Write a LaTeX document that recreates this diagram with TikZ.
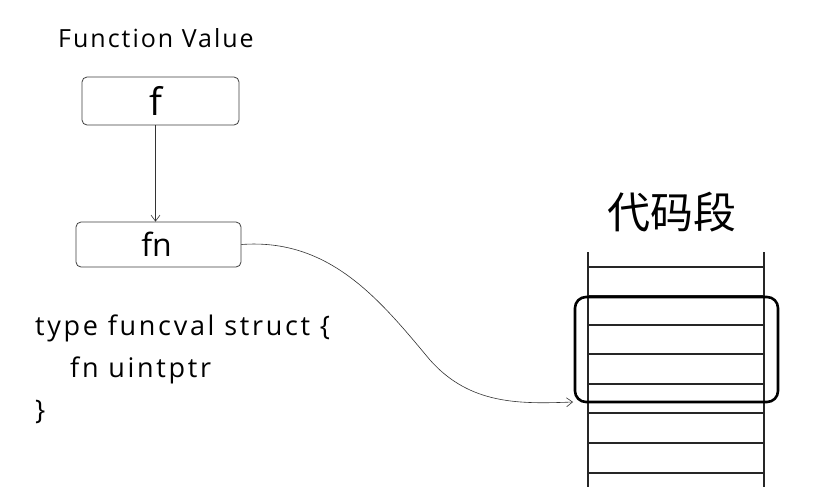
\documentclass[tikz,border=0pt]{standalone}
\usepackage{fontspec}
\setmainfont{Open Sans}
\newfontfamily\cjk{Noto Sans CJK SC}
\newfontfamily\spaced[LetterSpace=8]{Open Sans}
\newfontfamily\codefont[LetterSpace=10]{Open Sans}
\usetikzlibrary{arrows.meta}
\begin{document}
\begin{tikzpicture}[x=1pt,y=-1pt,
  valbox/.style={draw=black!75,line width=0.8pt,rounded corners=5pt,inner sep=0pt},
  lbl/.style={font=\fontsize{32}{36}\selectfont,inner sep=0pt},
  codeline/.style={font=\codefont\fontsize{27}{30}\selectfont,inner sep=0pt,anchor=base west},
  memline/.style={line width=1.3pt,black!85},
  link/.style={line width=0.6pt,black!80,-{Straight Barb[length=6pt,width=9pt]}}]
\useasboundingbox[fill=white] (0,0) rectangle (826,487);
% Title
\node[font=\spaced\fontsize{25}{28}\selectfont,inner sep=0pt,anchor=base] (title) at (156,48) {Function Value};
% Boxes
\node[valbox,minimum width=157pt,minimum height=48pt] (f) at (160.5,101) {};
\node[lbl,font=\fontsize{38}{40}\selectfont] (ftext) at ([xshift=-5pt]f.center) {f};
\node[valbox,minimum width=165pt,minimum height=45pt] (fn) at (158.5,244.5) {};
\node[lbl] (fntext) at ([xshift=-2pt]fn.center) {fn};
\draw[link] ([xshift=-5pt]f.south) -- ([xshift=-3pt]fn.north);
% Code
\node[codeline] (c1) at (35,335) {type funcval struct \{};
\node[codeline] (c2) at (70,377) {fn uintptr};
\node[codeline] (c3) at (35,419) {\}};
% Code segment
\node[font=\cjk\fontsize{43}{46}\selectfont,inner sep=0pt] (seg) at (672,212) {代码段};
\coordinate (vl1) at (588,252);
\coordinate (vl2) at (764,252);
\draw[memline] (vl1) -- (588,487);
\draw[memline] (vl2) -- (764,487);
\foreach \y in {267,296,325,354,384,413,443,473}
  \draw[memline] (588,\y) -- (764,\y);
\node[draw=black,line width=2.6pt,rounded corners=11pt,minimum width=203pt,minimum height=105pt,inner sep=0pt] (hl) at (676.5,349.5) {};
\coordinate (tip) at (573,402);
\draw[link] (fn.east) .. controls (330,238) and (380,300) .. (430,360) .. controls (470,405) and (520,404) .. (tip);
\end{tikzpicture}
\end{document}
